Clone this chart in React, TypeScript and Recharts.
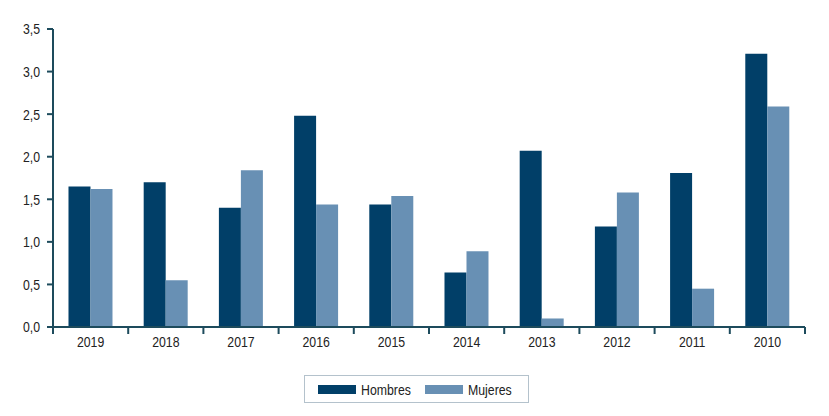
import React from 'react';
import { BarChart, Bar, XAxis, YAxis } from 'recharts';

const years = ['2019', '2018', '2017', '2016', '2015', '2014', '2013', '2012', '2011', '2010'];
const hombres = [1.65, 1.70, 1.40, 2.48, 1.44, 0.64, 2.07, 1.18, 1.81, 3.21];
const mujeres = [1.62, 0.55, 1.84, 1.44, 1.54, 0.89, 0.10, 1.58, 0.45, 2.59];
const yTicks = [0, 0.5, 1, 1.5, 2, 2.5, 3, 3.5];

const DARK = '#013f68';
const LIGHT = '#6890b4';
const AXIS = '#1d4b5c';
const FONT = '"Liberation Sans", Arial, sans-serif';
const SQUEEZE = 0.82;

const data = years.map((y, i) => ({ year: y, Hombres: hombres[i], Mujeres: mujeres[i] }));

const fmt = (v: number) => v.toFixed(1).replace('.', ',');

// category label plus the boundary tick marks between categories
const XTick = (props: any) => {
  const { x, y, payload, index } = props;
  const half = payload.offset || 0;
  const last = index === years.length - 1;
  return (
    <g transform={`translate(${x},${y})`}>
      <line x1={-half} x2={-half} y1={0} y2={7} stroke={AXIS} strokeWidth={2} />
      {last && <line x1={half} x2={half} y1={0} y2={7} stroke={AXIS} strokeWidth={2} />}
      <text transform={`scale(${SQUEEZE},1)`} textAnchor="middle" y={7} dy="0.85em" fill="#222" fontSize={15} fontFamily={FONT}>
        {payload.value}
      </text>
    </g>
  );
};

const YTick = (props: any) => {
  const { x, y, payload } = props;
  return (
    <g transform={`translate(${x},${y})`}>
      <text transform={`scale(${SQUEEZE},1)`} textAnchor="end" dy="0.36em" fill="#222" fontSize={15} fontFamily={FONT}>
        {fmt(payload.value)}
      </text>
    </g>
  );
};

const LegendBox = () => (
  <div
    style={{
      position: 'absolute',
      left: 304,
      top: 375,
      width: 223,
      height: 26,
      border: '1px solid #b4c2cc',
      display: 'flex',
      alignItems: 'center',
      fontFamily: FONT,
      fontSize: 15,
      color: '#222',
    }}
  >
    <span style={{ width: 38, height: 9, background: DARK, marginLeft: 13, marginRight: 5 }} />
    <span style={{ display: 'inline-block', width: 50, transform: `scaleX(${SQUEEZE})`, transformOrigin: 'left' }}>Hombres</span>
    <span style={{ width: 38, height: 9, background: LIGHT, marginLeft: 14, marginRight: 5 }} />
    <span style={{ display: 'inline-block', transform: `scaleX(${SQUEEZE})`, transformOrigin: 'left' }}>Mujeres</span>
  </div>
);

export default function App() {
  return (
    <div style={{ position: 'absolute', left: 0, top: 0, width: 829, height: 416, background: '#fff' }}>
      <BarChart
        width={829}
        height={416}
        data={data}
        margin={{ top: 29, right: 24, left: 0, bottom: 64 }}
        barCategoryGap="20.6%"
        barGap={0}
      >
        <XAxis
          dataKey="year"
          stroke={AXIS}
          strokeWidth={2}
          tickLine={false}
          tickSize={0}
          tickMargin={0}
          height={25}
          interval={0}
          tick={<XTick />}
        />
        <YAxis
          width={53}
          domain={[0, 3.5]}
          ticks={yTicks}
          stroke={AXIS}
          strokeWidth={2}
          tickSize={6}
          tickMargin={7}
          tickLine={{ stroke: AXIS, strokeWidth: 2 }}
          tick={<YTick />}
        />
        <Bar dataKey="Hombres" fill={DARK} isAnimationActive={false} />
        <Bar dataKey="Mujeres" fill={LIGHT} isAnimationActive={false} />
      </BarChart>
      <LegendBox />
    </div>
  );
}
